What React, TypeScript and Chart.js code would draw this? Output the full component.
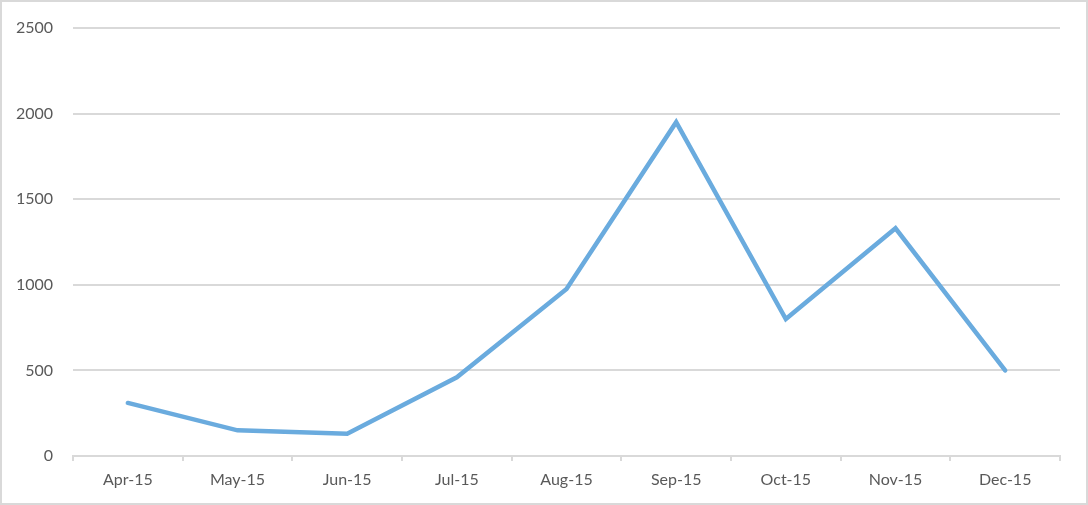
import React, { useEffect, useRef } from "react";
import { Chart, registerables } from "chart.js";

Chart.register(...registerables);

const categories = ["Apr-15", "May-15", "Jun-15", "Jul-15", "Aug-15", "Sep-15", "Oct-15", "Nov-15", "Dec-15"];
const values = [310, 150, 130, 460, 975, 1950, 800, 1330, 500];
const yMin = 0;
const yMax = 2500;
const yStep = 500;

export default function App() {
  const ref = useRef<HTMLCanvasElement>(null);
  useEffect(() => {
    document.body.style.margin = "0";
    const ctx = ref.current!.getContext("2d")!;
    const chart = new Chart(ctx, {
      type: "line",
      data: {
        labels: categories,
        datasets: [
          {
            data: values,
            borderColor: "#6aabde",
            borderWidth: 4.5,
            pointRadius: 0,
            pointHoverRadius: 0,
            tension: 0,
            borderCapStyle: "round",
            borderJoinStyle: "miter",
            fill: false,
          },
        ],
      },
      options: {
        animation: false,
        responsive: false,
        maintainAspectRatio: false,
        layout: { padding: { left: 0, right: 26, top: 26, bottom: 0 } },
        plugins: { legend: { display: false }, tooltip: { enabled: false } },
        scales: {
          x: {
            offset: true,
            grid: {
              offset: true,
              drawOnChartArea: false,
              drawTicks: true,
              tickLength: 5,
              color: "#d9d9d9",
              lineWidth: 2,
            },
            border: { display: true, color: "#d9d9d9", width: 2 },
            ticks: {
              color: "#595959",
              font: { family: "Lato", size: 16 },
              padding: 9,
              maxRotation: 0,
              autoSkip: false,
            },
            afterFit: (scale: any) => {
              scale.height = 47;
              scale.paddingLeft = 0;
              scale.paddingRight = 0;
            },
          },
          y: {
            min: yMin,
            max: yMax,
            grid: { color: "#d9d9d9", lineWidth: 2, drawTicks: false },
            border: { display: false },
            ticks: {
              stepSize: yStep,
              color: "#595959",
              font: { family: "Lato", size: 16 },
              padding: 20,
              callback: (v: any) => String(v),
            },
            afterFit: (scale: any) => {
              scale.width = 71;
              scale.paddingTop = 0;
              scale.paddingBottom = 0;
            },
          },
        },
      },
    });
    return () => chart.destroy();
  }, []);
  return (
    <div
      style={{
        position: "absolute",
        left: 0,
        top: 0,
        width: 1088,
        height: 505,
        border: "2px solid #d9d9d9",
        boxSizing: "border-box",
        background: "#fff",
      }}
    >
      <canvas ref={ref} width={1084} height={501} style={{ display: "block" }} />
    </div>
  );
}
